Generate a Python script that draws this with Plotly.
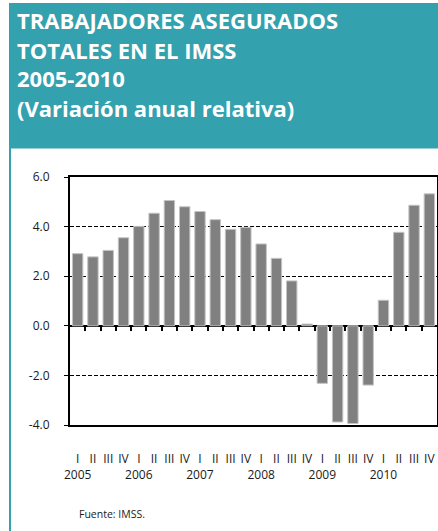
import plotly.graph_objects as go

quarters = ["I", "II", "III", "IV"]
years = ["2005", "2006", "2007", "2008", "2009", "2010"]
values = [2.91, 2.78, 3.04, 3.55,
          4.01, 4.54, 5.05, 4.80,
          4.61, 4.28, 3.89, 3.97,
          3.30, 2.72, 1.81, 0.07,
          -2.32, -3.88, -3.94, -2.39,
          1.03, 3.77, 4.86, 5.32]
y_ticks = [-4, -2, 0, 2, 4, 6]
y_tick_labels = ["-4.0", "-2.0", "0.0", "2.0", "4.0", "6.0"]
title_lines = ["TRABAJADORES ASEGURADOS", "TOTALES EN EL IMSS", "2005-2010",
               "(Variación anual relativa)"]
source = "Fuente: IMSS."

W, H = 438, 531
L, R, T, B = 70, 1, 177, 106
pw, ph = W - L - R, H - T - B

def px_x(x):
    return (x - L) / pw

def px_y(y):
    return 1 - (y - T) / ph

TEAL = "#34A1AF"

n = len(values)
idx = list(range(n))
ticktext = []
for i in idx:
    q = quarters[i % 4]
    if i % 4 == 0:
        ticktext.append(q + "<br>" + years[i // 4])
    else:
        ticktext.append(q)

fig = go.Figure()
fig.add_trace(go.Bar(
    x=idx, y=values, width=0.68,
    marker=dict(color="#808080", line=dict(color="#c4c4c4", width=1)),
    showlegend=False, hoverinfo="skip",
))
fig.add_trace(go.Scatter(x=[-0.5, n - 0.5], y=[0, 0], xaxis="x2", mode="lines",
                         line=dict(color="rgba(0,0,0,0)"), showlegend=False, hoverinfo="skip"))

fig.update_layout(
    width=W, height=H,
    margin=dict(l=L, r=R, t=T, b=B, autoexpand=False),
    paper_bgcolor="white", plot_bgcolor="white",
    font=dict(family="Open Sans", color="#1a1a1a"),
    xaxis=dict(
        range=[-0.5, n - 0.5], tickmode="array", tickvals=idx, ticktext=ticktext,
        tickangle=0, automargin=False,
        ticks="outside", ticklen=22, tickcolor="rgba(0,0,0,0)",
        tickfont=dict(size=12, color="#1a1a1a"),
        showline=True, linecolor="black", linewidth=2, mirror=True,
        showgrid=False, zeroline=False,
    ),
    xaxis2=dict(
        overlaying="x", anchor="free", position=0.4,
        range=[-0.5, n - 0.5], tickmode="array",
        tickvals=[i + 0.5 for i in range(n - 1)],
        ticks="outside", ticklen=4, tickwidth=1.5, tickcolor="black",
        showticklabels=False, showline=False, showgrid=False, zeroline=False,
    ),
    yaxis=dict(
        range=[-4, 6], tickmode="array", tickvals=y_ticks, ticktext=y_tick_labels,
        ticks="outside", ticklen=4, tickcolor="black", automargin=False,
        ticklabelstandoff=12,
        tickfont=dict(size=12, color="#1a1a1a"),
        showline=True, linecolor="black", linewidth=2, mirror=True,
        showgrid=True, gridcolor="black", gridwidth=1, griddash="4px,2px",
        zeroline=True, zerolinecolor="black", zerolinewidth=2,
    ),
    bargap=0.3,
)

fig.add_shape(type="rect", xref="paper", yref="paper",
              x0=px_x(9), x1=px_x(440), y0=px_y(148.5), y1=px_y(3),
              fillcolor=TEAL, line=dict(width=0), layer="below")
fig.add_shape(type="rect", xref="paper", yref="paper",
              x0=px_x(9), x1=px_x(11), y0=px_y(540), y1=px_y(148),
              fillcolor=TEAL, line=dict(width=0), layer="below")

baselines = [31, 61, 89, 119]
for txt, bl in zip(title_lines, baselines):
    fig.add_annotation(text="<b>" + txt + "</b>", xref="paper", yref="paper",
                       x=px_x(15), y=px_y(bl + 6), xanchor="left", yanchor="bottom",
                       showarrow=False, font=dict(family="Open Sans", size=22, color="white"))

fig.add_annotation(text=source, xref="paper", yref="paper",
                   x=px_x(77), y=px_y(514), xanchor="left", yanchor="middle",
                   showarrow=False, font=dict(family="Open Sans", size=10.5, color="#1a1a1a"))

fig.write_html("out.html", config={"displayModeBar": False},
               post_script="document.body.style.margin='0';document.body.style.overflow='hidden';")
